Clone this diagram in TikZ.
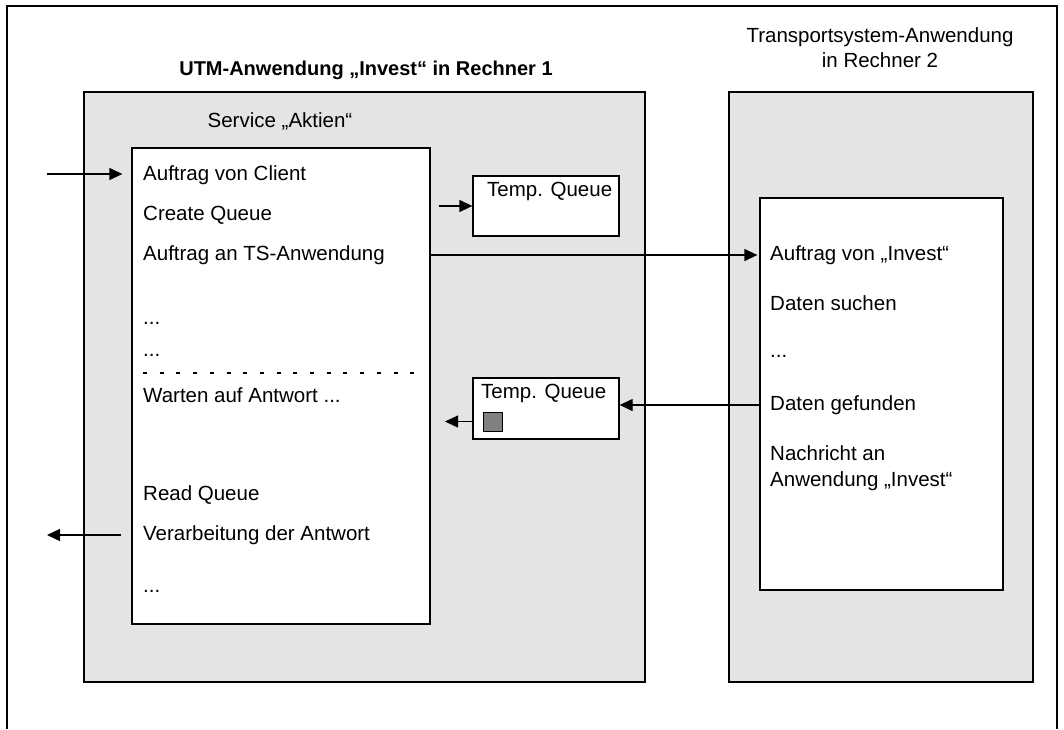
\documentclass[tikz,border=0pt]{standalone}
\usepackage{fontspec}
\setmainfont{Liberation Sans}
\usetikzlibrary{arrows.meta,calc}
\definecolor{panelgray}{RGB}{228,228,228}
\definecolor{squaregray}{RGB}{128,128,128}
\tikzset{
  frame/.style={line width=1.4pt},
  panel/.style={draw, line width=1.3pt, fill=panelgray},
  whitebox/.style={draw, line width=1.3pt, fill=white},
  lbl/.style={anchor=west, inner sep=0pt, font=\fontsize{20.5}{24}\selectfont},
  ctr/.style={inner sep=0pt, font=\fontsize{20.5}{24}\selectfont, align=center},
  arr/.style={line width=1.3pt, -{Triangle[length=13pt,width=12pt]}},
}
\begin{document}
\begin{tikzpicture}[x=1pt,y=-1pt]
\useasboundingbox (0,0) rectangle (1064,729);
% outer frame (open at bottom)
\draw[frame] (7,729) -- (7,6) -- (1057,6) -- (1057,729);
% titles
\node[ctr, font=\fontsize{20}{24}\selectfont\bfseries] (title1) at (366,70) {UTM-Anwendung „Invest“ in Rechner 1};
\node[ctr, font=\fontsize{20.5}{25}\selectfont] (title2) at (880,48) {Transportsystem-Anwendung\\in Rechner 2};
% panels
\draw[panel] (84,92) rectangle (645,682);
\draw[panel] (729,92) rectangle (1033,682);
\node[ctr] (service) at (280,121) {Service „Aktien“};
% white boxes
\node[whitebox, minimum width=298pt, minimum height=476pt, inner sep=0pt] (lbox) at (281,386) {};
\node[whitebox, minimum width=243pt, minimum height=392pt, inner sep=0pt] (rbox) at (881.5,394) {};
\node[whitebox, minimum width=146pt, minimum height=60pt, inner sep=0pt] (q1) at (546,206) {};
\node[whitebox, minimum width=146pt, minimum height=61pt, inner sep=0pt] (q2) at (546,408.5) {};
\node[lbl] (q1t) at (487,191) {Temp. Queue};
\node[lbl] (q2t) at (481,393) {Temp. Queue};
\node[draw, line width=0.8pt, fill=squaregray, minimum size=19pt, inner sep=0pt] (sq) at (492.5,421.5) {};
% left box texts
\node[lbl] (l1) at (143,175) {Auftrag von Client};
\node[lbl] (l2) at (143,215) {Create Queue};
\node[lbl] (l3) at (143,255) {Auftrag an TS-Anwendung};
\node[lbl] (l4) at (143,323) {...};
\node[lbl] (l5) at (143,355) {...};
\node[lbl] (l6) at (143,395) {Warten auf Antwort ...};
\node[lbl] (l7) at (143,495) {Read Queue};
\node[lbl] (l8) at (143,535) {Verarbeitung der Antwort};
\node[lbl] (l9) at (143,591) {...};
\draw[line width=1.1pt, dash pattern=on 4pt off 12.7pt] (143,373) -- (415,373);
% right box texts
\node[lbl] (r1) at (770,255) {Auftrag von „Invest“};
\node[lbl] (r2) at (770,303) {Daten suchen};
\node[lbl] (r3) at (770,356) {...};
\node[lbl] (r4) at (770,405) {Daten gefunden};
\node[lbl] (r5) at (770,453) {Nachricht an};
\node[lbl] (r6) at (770,481) {Anwendung „Invest“};
% connectors
\coordinate (inStart) at (47,174);
\coordinate (outEnd) at (47,535);
\draw[arr] (inStart) -- ([xshift=-9pt]lbox.west |- inStart);
\draw[arr] ([xshift=-10pt]lbox.west |- outEnd) -- (outEnd);
\draw[arr] ([xshift=8pt]lbox.east |- q1.west) -- (q1.west);
\draw[arr] (lbox.east |- r1.west) -- ([xshift=-2pt]rbox.west |- r1.west);
\draw[arr] (rbox.west |- r4.west) -- (q2.east |- r4.west);
\coordinate (q2out) at (445,421.5);
\draw[arr] (q2.west |- sq) -- (q2out);
\end{tikzpicture}
\end{document}
